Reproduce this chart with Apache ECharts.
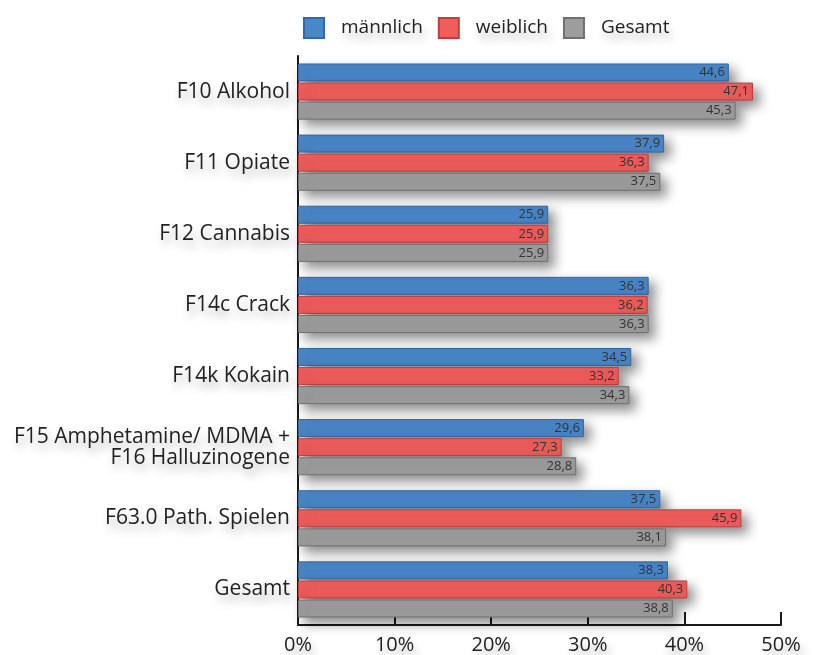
<!DOCTYPE html>
<html>
<head>
<meta charset="utf-8">
<script src="https://cdn.jsdelivr.net/npm/echarts@6/dist/echarts.min.js"></script>
<style>
  html, body { margin: 0; padding: 0; background: #ffffff; }
  #chart { width: 814px; height: 655px; }
</style>
</head>
<body>
<div id="chart"></div>
<script>
// Diagnosegruppen (von oben nach unten)
const categories = [
  'F10 Alkohol',
  'F11 Opiate',
  'F12 Cannabis',
  'F14c Crack',
  'F14k Kokain',
  'F15 Amphetamine/ MDMA +\nF16 Halluzinogene',
  'F63.0 Path. Spielen',
  'Gesamt'
];

// Anteile in Prozent
const maennlich = [44.6, 37.9, 25.9, 36.3, 34.5, 29.6, 37.5, 38.3];
const weiblich  = [47.1, 36.3, 25.9, 36.2, 33.2, 27.3, 45.9, 40.3];
const gesamt    = [45.3, 37.5, 25.9, 36.3, 34.3, 28.8, 38.1, 38.8];

const seriesNames = ['männlich', 'weiblich', 'Gesamt'];
const tickValues = [0, 10, 20, 30, 40, 50];

const FONT = '"Open Sans", "Noto Sans", sans-serif';

const fills   = ['#4a87c9', '#f05d5b', '#9d9d9d'];
const borders = ['#34689f', '#c23e3d', '#6f6f6f'];

const textHaze = {
  textShadowColor: 'rgba(0,0,0,0.28)',
  textShadowBlur: 10,
  textShadowOffsetX: 3,
  textShadowOffsetY: 7
};

function makeSeries(name, data, i) {
  return {
    name: name,
    type: 'bar',
    data: data,
    barWidth: 18,
    barGap: '6%',
    itemStyle: {
      color: fills[i],
      borderColor: borders[i],
      borderWidth: 1,
      shadowColor: 'rgba(0,0,0,0.45)',
      shadowBlur: 12,
      shadowOffsetX: 6,
      shadowOffsetY: 6
    },
    label: {
      show: true,
      position: 'insideRight',
      distance: 4,
      color: '#333333',
      fontFamily: FONT,
      fontSize: 13,
      formatter: p => p.value.toFixed(1).replace('.', ',')
    }
  };
}

const chart = echarts.init(document.getElementById('chart'), null, { renderer: 'canvas' });

chart.setOption({
  backgroundColor: '#ffffff',
  animation: false,
  legend: {
    data: seriesNames,
    left: 298,
    top: 12,
    itemWidth: 20,
    itemHeight: 20,
    itemGap: 15,
    icon: 'rect',
    textStyle: Object.assign({
      fontFamily: FONT,
      fontSize: 19,
      color: '#222222',
      padding: [0, 0, 0, 12]
    }, textHaze)
  },
  grid: {
    left: 298,
    right: 33,
    top: 56,
    bottom: 30,
    containLabel: false
  },
  xAxis: {
    type: 'value',
    min: 0,
    max: 50,
    interval: 10,
    splitLine: { show: false },
    axisLine: { show: true, lineStyle: { color: '#1a1a1a', width: 2 } },
    axisTick: { show: true, inside: true, length: 13, lineStyle: { color: '#1a1a1a', width: 2 } },
    axisLabel: Object.assign({
      fontFamily: FONT,
      fontSize: 20,
      color: '#222222',
      margin: 10,
      formatter: v => tickValues.includes(v) ? v + '%' : ''
    }, textHaze)
  },
  yAxis: {
    type: 'category',
    data: categories,
    inverse: true,
    axisLine: { show: true, onZero: false, lineStyle: { color: '#1a1a1a', width: 2 } },
    axisTick: { show: false },
    axisLabel: Object.assign({
      fontFamily: FONT,
      fontSize: 21,
      color: '#222222',
      margin: 8,
      lineHeight: 21,
      align: 'right'
    }, textHaze)
  },
  series: [
    makeSeries(seriesNames[0], maennlich, 0),
    makeSeries(seriesNames[1], weiblich, 1),
    makeSeries(seriesNames[2], gesamt, 2)
  ]
});
</script>
</body>
</html>
